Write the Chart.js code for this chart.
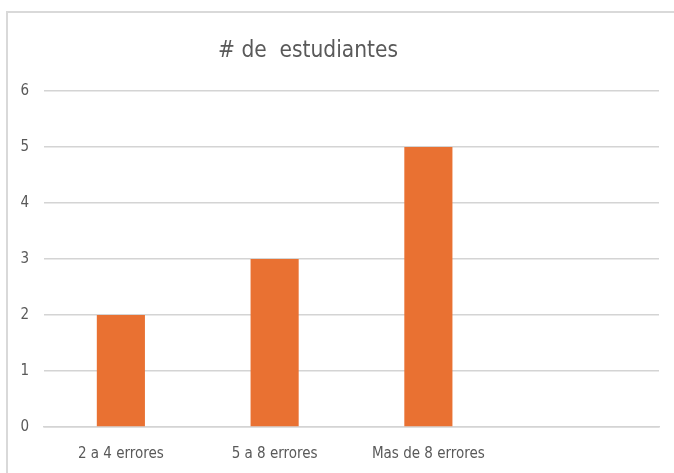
<!DOCTYPE html>
<html>
<head>
<meta charset="utf-8">
<script src="https://cdn.jsdelivr.net/npm/chart.js@4"></script>
<style>
  html, body { margin: 0; padding: 0; background: #fff; }
  #wrap { position: relative; width: 674px; height: 473px; overflow: hidden; }
  #frame { position: absolute; left: 6px; top: 11px; width: 720px; height: 520px;
           border-left: 2px solid #d9d9d9; border-top: 2px solid #d9d9d9; }
  canvas { position: absolute; left: 0; top: 0; }
</style>
</head>
<body>
<div id="wrap">
  <div id="frame"></div>
  <canvas id="c" width="674" height="473"></canvas>
</div>
<script>
const categories = ["2 a 4 errores", "5 a 8 errores", "Mas de 8 errores", ""];
const estudiantes = [2, 3, 5, null];
const yTicks = [0, 1, 2, 3, 4, 5, 6];
const chartTitle = "# de  estudiantes";

const FONT = "'Liberation Sans Narrow', 'Arial Narrow', 'DejaVu Sans Condensed', sans-serif";
const GRAY = "#595959";

const titlePlugin = {
  id: 'offsetTitle',
  afterDraw(chart) {
    const ctx = chart.ctx;
    ctx.save();
    ctx.font = "22.5px " + FONT;
    ctx.fillStyle = GRAY;
    ctx.textAlign = "center";
    ctx.textBaseline = "alphabetic";
    ctx.fillText(chartTitle, 308, 57);
    ctx.restore();
  }
};

new Chart(document.getElementById('c'), {
  type: 'bar',
  data: {
    labels: categories,
    datasets: [{
      label: chartTitle,
      data: estudiantes,
      backgroundColor: '#E97132',
      borderWidth: 0,
      categoryPercentage: 1,
      barPercentage: 0.313
    }]
  },
  options: {
    responsive: false,
    animation: false,
    devicePixelRatio: 1,
    layout: { padding: { top: 91, right: 15, bottom: 0, left: 0 } },
    plugins: { legend: { display: false }, title: { display: false }, tooltip: { enabled: false } },
    scales: {
      x: {
        grid: { display: false, drawTicks: false },
        border: { display: true, color: '#d4d4d4', width: 1.5 },
        ticks: { color: GRAY, font: { family: FONT, size: 15 }, padding: 18, maxRotation: 0, autoSkip: false },
        afterFit(scale) { scale.height = 46; }
      },
      y: {
        min: 0, max: 6,
        afterBuildTicks(scale) { scale.ticks = yTicks.map(v => ({ value: v })); },
        grid: { color: '#d4d4d4', lineWidth: 1.5, drawTicks: false },
        border: { display: false },
        ticks: { color: GRAY, font: { family: FONT, size: 15 }, padding: 15 },
        afterFit(scale) { scale.width = 44; }
      }
    }
  },
  plugins: [titlePlugin]
});
</script>
</body>
</html>
